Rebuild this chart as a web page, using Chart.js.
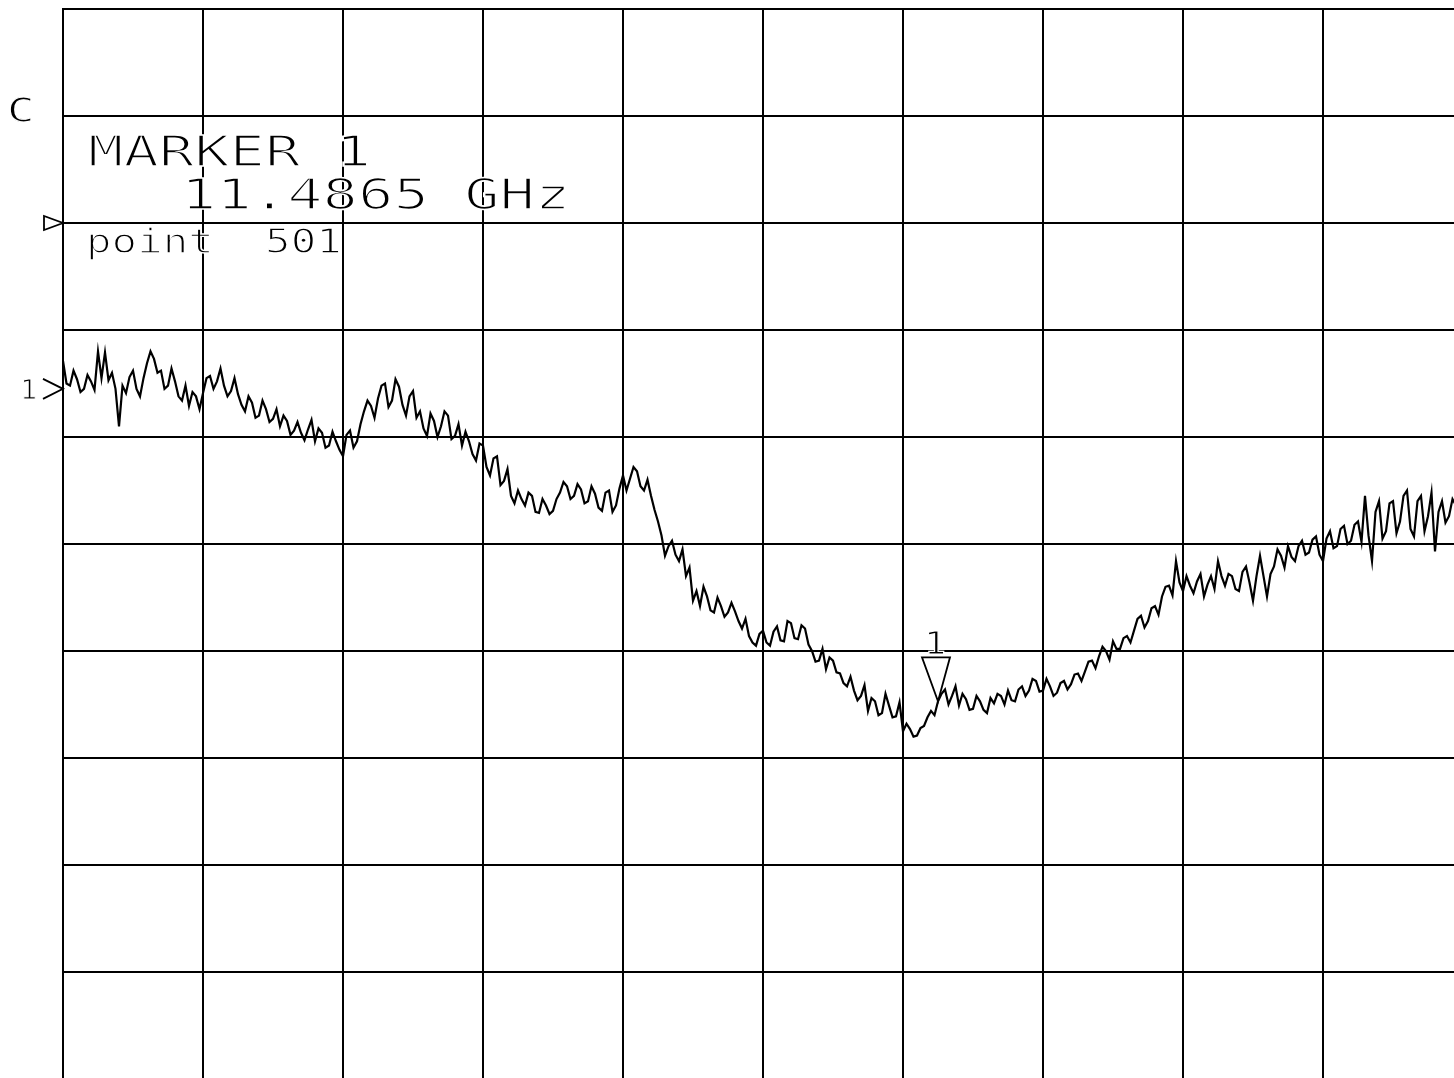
<!DOCTYPE html>
<html>
<head>
<meta charset="utf-8">
<title>Marker 1 trace</title>
<script src="https://cdn.jsdelivr.net/npm/chart.js"></script>
<style>
    html, body { margin: 0; padding: 0; background: #fff; overflow: hidden; }
    canvas { display: block; }
</style>
</head>
<body>
<canvas id="traceChart" width="1470" height="1082"></canvas>
<script>
const sweepPoints = 801;
const pointStep = 2;

// trace 1, dB (1 dB/div, reference 0 dB at the ▷ mark)
const trace1 = [
    -1.29, -1.50, -1.52, -1.38, -1.46, -1.58, -1.55, -1.42, -1.48, -1.56, -1.20, -1.45, -1.21, -1.47, -1.40, -1.55, -1.90, -1.52, -1.59, -1.44,
    -1.38, -1.55, -1.62, -1.45, -1.31, -1.20, -1.27, -1.40, -1.38, -1.55, -1.52, -1.36, -1.48, -1.62, -1.66, -1.52, -1.71, -1.58, -1.62, -1.74,
    -1.59, -1.45, -1.43, -1.55, -1.48, -1.36, -1.52, -1.62, -1.57, -1.45, -1.60, -1.70, -1.76, -1.62, -1.68, -1.82, -1.80, -1.66, -1.74, -1.86,
    -1.83, -1.74, -1.90, -1.80, -1.85, -1.98, -1.94, -1.86, -1.96, -2.03, -1.93, -1.84, -2.04, -1.92, -1.96, -2.10, -2.08, -1.95, -2.04, -2.12,
    -2.18, -1.98, -1.94, -2.10, -2.04, -1.88, -1.76, -1.66, -1.71, -1.82, -1.64, -1.52, -1.50, -1.72, -1.66, -1.46, -1.53, -1.70, -1.80, -1.62,
    -1.57, -1.82, -1.76, -1.92, -1.99, -1.78, -1.85, -2.00, -1.90, -1.76, -1.80, -2.02, -1.99, -1.88, -2.08, -1.95, -2.04, -2.16, -2.22, -2.06,
    -2.08, -2.28, -2.36, -2.20, -2.18, -2.45, -2.41, -2.30, -2.55, -2.62, -2.50, -2.58, -2.64, -2.52, -2.55, -2.70, -2.71, -2.58, -2.64, -2.72,
    -2.69, -2.58, -2.52, -2.42, -2.46, -2.58, -2.55, -2.44, -2.49, -2.62, -2.60, -2.46, -2.53, -2.66, -2.69, -2.52, -2.50, -2.70, -2.64, -2.48,
    -2.36, -2.50, -2.39, -2.28, -2.32, -2.46, -2.50, -2.40, -2.55, -2.68, -2.79, -2.92, -3.11, -3.02, -2.97, -3.10, -3.16, -3.05, -3.30, -3.22,
    -3.53, -3.44, -3.58, -3.40, -3.49, -3.62, -3.64, -3.50, -3.58, -3.68, -3.64, -3.55, -3.63, -3.72, -3.79, -3.70, -3.86, -3.92, -3.95, -3.84,
    -3.81, -3.92, -3.95, -3.82, -3.77, -3.90, -3.91, -3.72, -3.74, -3.88, -3.89, -3.76, -3.79, -3.94, -4.00, -4.10, -4.09, -3.98, -4.17, -4.06,
    -4.09, -4.20, -4.21, -4.30, -4.33, -4.24, -4.37, -4.46, -4.42, -4.32, -4.56, -4.44, -4.47, -4.60, -4.58, -4.40, -4.51, -4.62, -4.61, -4.48,
    -4.75, -4.68, -4.73, -4.80, -4.79, -4.72, -4.70, -4.62, -4.56, -4.60, -4.47, -4.40, -4.36, -4.50, -4.42, -4.33, -4.51, -4.40, -4.45, -4.55,
    -4.54, -4.42, -4.47, -4.55, -4.58, -4.44, -4.49, -4.40, -4.42, -4.50, -4.37, -4.46, -4.47, -4.36, -4.33, -4.42, -4.37, -4.26, -4.28, -4.38,
    -4.37, -4.26, -4.33, -4.42, -4.39, -4.30, -4.28, -4.36, -4.31, -4.22, -4.21, -4.28, -4.19, -4.10, -4.09, -4.16, -4.05, -3.96, -4.00, -4.08,
    -3.91, -3.98, -3.98, -3.88, -3.86, -3.92, -3.81, -3.70, -3.67, -3.78, -3.72, -3.60, -3.58, -3.66, -3.49, -3.40, -3.39, -3.48, -3.16, -3.36,
    -3.44, -3.30, -3.39, -3.46, -3.35, -3.28, -3.49, -3.38, -3.30, -3.42, -3.16, -3.30, -3.39, -3.28, -3.30, -3.42, -3.44, -3.26, -3.21, -3.36,
    -3.53, -3.30, -3.11, -3.30, -3.49, -3.28, -3.21, -3.05, -3.11, -3.22, -3.02, -3.12, -3.16, -3.02, -2.97, -3.10, -3.08, -2.96, -2.93, -3.10,
    -3.16, -2.95, -2.88, -3.04, -3.02, -2.86, -2.83, -3.00, -2.97, -2.82, -2.79, -2.98, -2.55, -2.92, -3.16, -2.70, -2.60, -2.95, -2.88, -2.62,
    -2.60, -2.90, -2.79, -2.55, -2.50, -2.86, -2.93, -2.60, -2.55, -2.88, -2.74, -2.52, -3.07, -2.70, -2.60, -2.80, -2.74, -2.58, -2.64, -2.70
];

const yMin = -8;
const yMax = 2;
const refLevel = 0;       // ▷ on the left edge
const traceRef = -1.55;   // "1>" on the left edge

const markerPoint = 501;
const markerLines = ["MARKER 1", "11.4865 GHz", "point  501"];
const channelLabel = "C";

let traceChartInstance = null;

// plotter style text: stretched mono font, edges eaten back with a white stroke
function plotterText(ctx, text, x, y, size, stretch, thin) {
    ctx.save();
    ctx.translate(x, y);
    ctx.scale(stretch, 1);
    ctx.font = size + 'px "DejaVu Sans Mono"';
    ctx.textBaseline = "alphabetic";
    ctx.fillStyle = "#000";
    ctx.fillText(text, 0, 0);
    ctx.strokeStyle = "#fff";
    ctx.lineWidth = thin;
    ctx.strokeText(text, 0, 0);
    ctx.restore();
}

const annotations = {
    id: "annotations",
    afterDraw(chart) {
        const ctx = chart.ctx;
        const xs = chart.scales.x;
        const ys = chart.scales.y;
        const left = chart.chartArea.left;

        plotterText(ctx, channelLabel, 7, 122, 34, 1.35, 1.1);
        plotterText(ctx, markerLines[0], 88, 166, 42, 1.4, 1.7);
        plotterText(ctx, markerLines[1], 181, 209, 42, 1.4, 1.7);
        plotterText(ctx, markerLines[2], 86, 253, 34, 1.25, 1.4);

        ctx.save();
        ctx.strokeStyle = "#000";
        ctx.lineWidth = 1.8;

        // reference position ▷
        let ry = ys.getPixelForValue(refLevel);
        ctx.beginPath();
        ctx.moveTo(left - 19, ry - 7);
        ctx.lineTo(left - 19, ry + 7);
        ctx.lineTo(left, ry);
        ctx.closePath();
        ctx.stroke();

        // trace 1 reference  "1>"
        let ty = ys.getPixelForValue(traceRef);
        ctx.beginPath();
        ctx.moveTo(left - 20, ty - 10);
        ctx.lineTo(left, ty);
        ctx.lineTo(left - 20, ty + 10);
        ctx.stroke();

        // marker 1 triangle sitting on the trace
        let mi = Math.round((markerPoint - 1) / pointStep);
        let mx = xs.getPixelForValue(markerPoint - 1);
        let my = ys.getPixelForValue(trace1[mi]);
        ctx.beginPath();
        ctx.moveTo(mx - 16, my - 44);
        ctx.lineTo(mx + 12, my - 44);
        ctx.lineTo(mx, my);
        ctx.closePath();
        ctx.stroke();
        ctx.restore();

        plotterText(ctx, "1", 20, ty + 10, 26, 1.1, 1);
        plotterText(ctx, "1", mx - 14, my - 47, 32, 1.15, 1.1);
    }
};

function renderChart() {
    const canvas = document.getElementById("traceChart");
    const ctx = canvas.getContext("2d");

    if (traceChartInstance) {
        traceChartInstance.destroy();
    }

    const points = trace1.map((v, i) => ({ x: i * pointStep, y: v }));

    traceChartInstance = new Chart(ctx, {
        type: "line",
        data: {
            datasets: [
                {
                    label: "Trace 1",
                    data: points,
                    borderColor: "#000",
                    borderWidth: 2.2,
                    pointRadius: 0,
                    tension: 0,
                    fill: false
                }
            ]
        },
        options: {
            responsive: false,
            animation: false,
            devicePixelRatio: 1,
            layout: {
                padding: { left: 63, top: 9, right: 7, bottom: 3 }
            },
            plugins: {
                legend: { display: false },
                tooltip: { enabled: false }
            },
            scales: {
                x: {
                    type: "linear",
                    min: 0,
                    max: sweepPoints - 1,
                    ticks: { display: false, stepSize: 80 },
                    grid: { color: "#000", lineWidth: 2, drawTicks: false },
                    border: { color: "#000", width: 2 },
                    afterFit: (s) => { s.height = 0; }
                },
                y: {
                    min: yMin,
                    max: yMax,
                    ticks: { display: false, stepSize: 1 },
                    grid: { color: "#000", lineWidth: 2, drawTicks: false },
                    border: { color: "#000", width: 2 },
                    afterFit: (s) => { s.width = 0; }
                }
            }
        },
        plugins: [annotations]
    });
}

document.addEventListener("DOMContentLoaded", () => {
    renderChart();
});
</script>
</body>
</html>
